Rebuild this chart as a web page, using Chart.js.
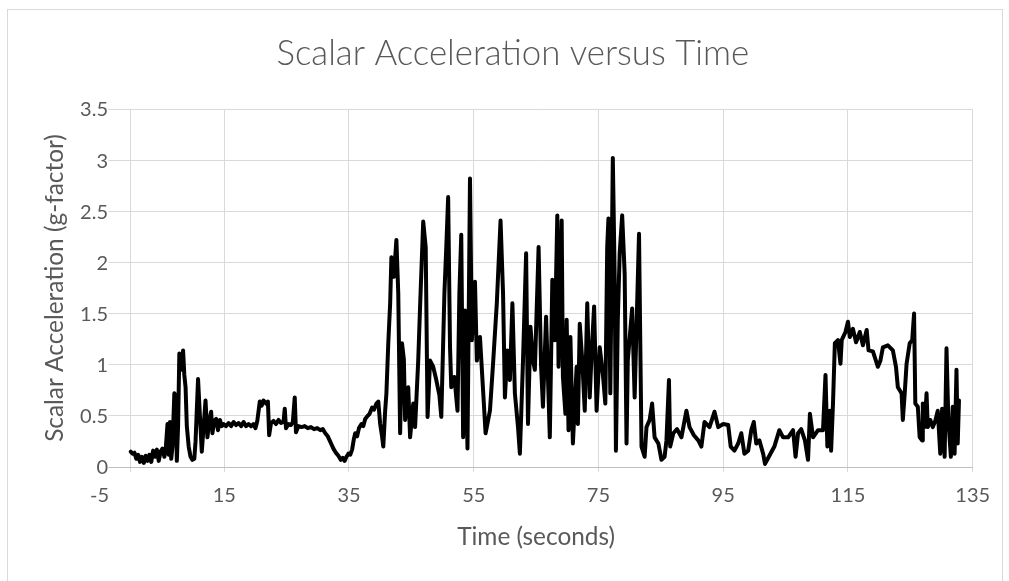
<!DOCTYPE html>
<html>
<head>
<meta charset="utf-8">
<script src="https://cdn.jsdelivr.net/npm/chart.js@4.4.1/dist/chart.umd.min.js"></script>
<style>
  html, body { margin: 0; padding: 0; background: #ffffff; }
  #wrap { width: 1009px; height: 581px; position: relative; }
</style>
</head>
<body>
<div id="wrap"><canvas id="c" width="1009" height="581"></canvas></div>
<script>
const chartTitle = 'Scalar Acceleration versus Time';
const xAxisTitle = 'Time (seconds)';
const yAxisTitle = 'Scalar Acceleration (g-factor)';

const xTickValues = [-5, 15, 35, 55, 75, 95, 115, 135];
const xTickLabels = ['-5', '15', '35', '55', '75', '95', '115', '135'];
const yTickValues = [0, 0.5, 1, 1.5, 2, 2.5, 3, 3.5];
const yTickLabels = ['0', '0.5', '1', '1.5', '2', '2.5', '3', '3.5'];

const timeSeconds = [
  0.0, 0.3, 0.6, 0.9, 1.2, 1.5, 1.8, 2.1, 2.4, 2.7, 3.0, 3.3, 3.6, 3.9, 4.2, 4.5, 4.8, 5.1, 5.4, 5.6,
  5.9, 6.1, 6.3, 6.5, 6.7, 7.0, 7.2, 7.4, 7.6, 7.8, 8.0, 8.2, 8.4, 8.6, 8.8, 9.0, 9.3, 9.6, 9.9, 10.2,
  10.4, 10.8, 11.1, 11.4, 11.7, 12.0, 12.3, 12.6, 12.9, 13.1, 13.4, 13.7, 14.0, 14.3, 14.6, 14.9, 15.3, 15.7, 16.1, 16.5,
  16.9, 17.3, 17.7, 18.1, 18.5, 18.9, 19.3, 19.7, 20.0, 20.3, 20.7, 21.0, 21.3, 21.7, 22.0, 22.2, 22.5, 22.9, 23.3, 23.7,
  24.1, 24.5, 24.7, 24.9, 25.3, 25.7, 26.0, 26.3, 26.5, 26.9, 27.4, 27.9, 28.4, 28.9, 29.4, 29.9, 30.4, 30.8, 31.2, 31.6,
  31.9, 32.2, 32.5, 32.9, 33.3, 33.7, 34.0, 34.3, 34.6, 34.9, 35.2, 35.5, 35.8, 36.0, 36.3, 36.6, 37.0, 37.3, 37.6, 38.0,
  38.3, 38.7, 39.0, 39.4, 39.7, 40.0, 40.3, 40.5, 40.8, 41.0, 41.3, 41.6, 41.8, 42.0, 42.2, 42.6, 42.9, 43.2, 43.5, 43.8,
  44.0, 44.5, 44.8, 45.3, 45.6, 46.1, 46.4, 46.9, 47.3, 47.6, 48.0, 48.5, 49.0, 49.5, 49.8, 50.3, 50.6, 50.9, 51.2, 51.4,
  51.9, 52.4, 52.7, 53.0, 53.3, 53.6, 54.0, 54.4, 54.7, 55.2, 55.5, 56.0, 56.5, 56.9, 57.6, 58.1, 58.7, 59.3, 59.7, 60.0,
  60.4, 60.8, 61.2, 61.6, 62.1, 62.4, 62.9, 63.4, 63.7, 64.1, 64.5, 64.8, 65.4, 65.8, 66.1, 66.6, 67.2, 67.6, 68.0, 68.4,
  68.6, 69.1, 69.3, 69.7, 69.9, 70.2, 70.5, 70.9, 71.5, 71.7, 72.0, 72.4, 72.8, 73.2, 73.6, 73.9, 74.3, 74.7, 75.2, 75.7,
  76.1, 76.4, 76.6, 76.9, 77.3, 77.6, 77.8, 78.1, 78.4, 78.8, 79.2, 79.5, 79.7, 80.4, 80.8, 81.5, 81.8, 81.9, 82.4, 82.7,
  83.2, 83.6, 84.0, 84.6, 85.1, 85.6, 85.9, 86.3, 86.5, 87.0, 87.6, 88.3, 89.1, 89.6, 90.3, 91.0, 91.5, 92.0, 92.8, 93.6,
  94.2, 95.0, 95.8, 96.2, 96.8, 97.4, 97.9, 98.4, 99.0, 99.5, 99.9, 100.3, 100.8, 101.4, 101.7, 102.4, 103.2, 104.0, 104.6, 105.4,
  106.2, 106.6, 107.0, 107.5, 108.1, 108.6, 108.9, 109.4, 110.2, 111.0, 111.4, 111.7, 112.1, 112.3, 112.6, 112.9, 113.4, 113.8, 114.0, 114.6,
  115.0, 115.3, 115.8, 116.3, 116.9, 117.4, 118.0, 118.3, 119.0, 119.8, 120.2, 120.6, 121.4, 122.2, 122.7, 123.0, 123.3, 123.6, 123.8, 124.1,
  124.4, 124.9, 125.3, 125.6, 125.8, 126.2, 126.5, 126.9, 127.0, 127.3, 127.6, 127.8, 128.2, 128.6, 129.0, 129.4, 129.8, 130.1, 130.5, 130.8,
  131.1, 131.5, 131.8, 132.1, 132.4, 132.6, 132.8
];

const scalarAccel = [
  0.15, 0.13, 0.14, 0.08, 0.12, 0.05, 0.10, 0.04, 0.11, 0.06, 0.12, 0.05, 0.16, 0.10, 0.17, 0.06, 0.15, 0.18, 0.10, 0.16,
  0.42, 0.12, 0.44, 0.08, 0.20, 0.72, 0.70, 0.06, 0.40, 1.11, 1.05, 0.95, 1.14, 0.90, 0.78, 0.40, 0.20, 0.10, 0.07, 0.08,
  0.25, 0.86, 0.50, 0.15, 0.40, 0.65, 0.29, 0.45, 0.54, 0.33, 0.45, 0.47, 0.36, 0.46, 0.40, 0.42, 0.40, 0.43, 0.40, 0.44,
  0.41, 0.43, 0.40, 0.44, 0.40, 0.42, 0.40, 0.42, 0.38, 0.45, 0.64, 0.60, 0.65, 0.62, 0.64, 0.31, 0.43, 0.45, 0.42, 0.46,
  0.43, 0.44, 0.57, 0.38, 0.42, 0.41, 0.44, 0.68, 0.34, 0.40, 0.39, 0.40, 0.38, 0.39, 0.37, 0.38, 0.36, 0.37, 0.33, 0.30,
  0.26, 0.22, 0.18, 0.14, 0.11, 0.07, 0.09, 0.06, 0.10, 0.13, 0.12, 0.17, 0.28, 0.33, 0.30, 0.38, 0.42, 0.40, 0.47, 0.50,
  0.52, 0.58, 0.56, 0.62, 0.64, 0.42, 0.30, 0.20, 0.55, 0.72, 1.21, 1.60, 2.05, 1.95, 1.86, 2.22, 1.70, 0.33, 1.21, 1.05,
  0.46, 0.78, 0.29, 0.62, 0.39, 1.04, 1.57, 2.40, 2.15, 0.49, 1.04, 0.98, 0.85, 0.70, 0.49, 1.70, 2.15, 2.64, 1.17, 0.78,
  0.88, 0.55, 1.70, 2.27, 0.29, 1.53, 0.18, 2.82, 1.24, 1.81, 1.04, 1.27, 0.75, 0.33, 0.55, 1.01, 1.60, 2.41, 1.70, 0.68,
  1.14, 0.85, 1.60, 0.72, 0.39, 0.13, 1.04, 2.09, 0.42, 1.37, 1.04, 0.95, 2.15, 0.98, 0.59, 1.47, 0.29, 1.83, 1.24, 2.46,
  0.98, 2.41, 0.88, 0.52, 1.44, 0.36, 1.27, 0.23, 0.98, 0.42, 1.40, 1.04, 0.55, 1.60, 0.68, 1.11, 1.57, 0.55, 1.17, 0.91,
  0.62, 2.15, 2.43, 0.72, 3.02, 1.86, 0.16, 1.44, 2.09, 2.46, 1.89, 0.23, 1.04, 1.55, 0.68, 2.28, 0.72, 0.20, 0.10, 0.39,
  0.46, 0.62, 0.29, 0.23, 0.07, 0.10, 0.26, 0.85, 0.20, 0.33, 0.37, 0.29, 0.55, 0.39, 0.31, 0.26, 0.20, 0.44, 0.39, 0.54,
  0.39, 0.42, 0.41, 0.20, 0.16, 0.23, 0.33, 0.13, 0.16, 0.36, 0.44, 0.23, 0.26, 0.13, 0.03, 0.11, 0.20, 0.36, 0.29, 0.29,
  0.36, 0.10, 0.33, 0.37, 0.26, 0.07, 0.52, 0.29, 0.36, 0.36, 0.90, 0.20, 0.55, 0.16, 0.62, 1.21, 1.24, 1.01, 1.24, 1.32,
  1.42, 1.27, 1.35, 1.22, 1.32, 1.19, 1.34, 1.14, 1.13, 0.98, 1.04, 1.17, 1.19, 1.14, 0.98, 0.78, 0.75, 0.72, 0.46, 0.72,
  1.01, 1.21, 1.24, 1.50, 0.62, 0.59, 0.29, 0.26, 0.62, 0.39, 0.72, 0.39, 0.46, 0.39, 0.45, 0.55, 0.13, 0.57, 0.10, 1.16,
  0.46, 0.10, 0.59, 0.13, 0.95, 0.23, 0.65
];

const points = timeSeconds.map((t, i) => ({ x: t, y: scalarAccel[i] }));

const FONT = 'Lato, "Open Sans", sans-serif';
const TXT = '#595959';
const GRID = '#d9d9d9';
const TICK_SIZE = 20;
const TITLE_WEIGHT = '300';

// font sizes fitted to the widths the texts occupy in the reference
function fitSize(text, targetWidth, weight) {
  const c = document.createElement('canvas').getContext('2d');
  c.font = (weight || 'normal') + ' 100px ' + FONT;
  return 100 * targetWidth / c.measureText(text).width;
}
const titleSize = fitSize(chartTitle, 473, TITLE_WEIGHT);
const axisTitleSize = fitSize(xAxisTitle, 158);

const chartBorder = {
  id: 'chartBorder',
  beforeDraw(chart) {
    const ctx = chart.ctx;
    ctx.save();
    ctx.fillStyle = '#ffffff';
    ctx.fillRect(0, 0, chart.width, chart.height);
    ctx.strokeStyle = GRID;
    ctx.lineWidth = 1;
    ctx.strokeRect(7.5, 9.5, 995, 600);
    ctx.restore();
  }
};

// y tick labels sit next to the vertical axis, which crosses at x = 0
const yLabelsAtCrossing = {
  id: 'yLabelsAtCrossing',
  beforeDatasetsDraw(chart) {
    const ctx = chart.ctx;
    const xs = chart.scales.x, ys = chart.scales.y;
    const right = xs.getPixelForValue(0) - 22.7;
    ctx.save();
    ctx.font = TICK_SIZE + 'px ' + FONT;
    ctx.textAlign = 'right';
    ctx.textBaseline = 'middle';
    yTickValues.forEach((v, i) => {
      const y = ys.getPixelForValue(v);
      const label = yTickLabels[i];
      const w = ctx.measureText(label).width;
      ctx.fillStyle = '#ffffff';
      ctx.fillRect(right - w - 1, y - 8, w + 1.5, 16);
      ctx.fillStyle = TXT;
      ctx.fillText(label, right, y + 1);
    });
    ctx.restore();
  }
};

new Chart(document.getElementById('c'), {
  type: 'line',
  data: {
    datasets: [{
      data: points,
      borderColor: '#000000',
      borderWidth: 4,
      pointRadius: 0,
      tension: 0,
      borderJoinStyle: 'round',
      borderCapStyle: 'round',
      fill: false
    }]
  },
  options: {
    responsive: false,
    animation: false,
    devicePixelRatio: 1,
    layout: { padding: { left: 53, right: 36.3, top: 0, bottom: 0 } },
    plugins: {
      legend: { display: false },
      tooltip: { enabled: false },
      title: {
        display: true,
        text: chartTitle,
        color: TXT,
        font: { family: FONT, size: titleSize, weight: TITLE_WEIGHT, lineHeight: 1.2 },
        padding: { top: 54 - 0.6 * titleSize, bottom: 55 - 0.6 * titleSize }
      }
    },
    scales: {
      x: {
        type: 'linear',
        min: -5,
        max: 135,
        afterBuildTicks(scale) {
          const vals = xTickValues.concat([0]).sort((a, b) => a - b);
          scale.ticks = vals.map(v => ({ value: v }));
        },
        afterFit(scale) { scale.height = 114; },
        ticks: {
          autoSkip: false,
          maxRotation: 0,
          padding: 12,
          color: TXT,
          font: { family: FONT, size: TICK_SIZE },
          callback(value) {
            const i = xTickValues.indexOf(value);
            return i >= 0 ? xTickLabels[i] : '';
          }
        },
        grid: {
          color: ctx => (ctx.tick && ctx.tick.value === -5) ? 'rgba(0,0,0,0)' : GRID,
          lineWidth: 1,
          drawTicks: true,
          tickLength: 5
        },
        border: { display: true, color: '#bfbfbf', width: 1 },
        title: {
          display: true,
          text: xAxisTitle,
          color: TXT,
          font: { family: FONT, size: axisTitleSize, lineHeight: 1.2 },
          padding: { top: 0, bottom: 581 - 537 - 0.6 * axisTitleSize }
        }
      },
      y: {
        type: 'linear',
        min: 0,
        max: 3.5,
        afterBuildTicks(scale) {
          scale.ticks = yTickValues.map(v => ({ value: v }));
        },
        afterFit(scale) { scale.width = 46.5; },
        ticks: { display: false },
        grid: { color: GRID, lineWidth: 1, drawTicks: false },
        border: { display: false },
        title: {
          display: true,
          text: yAxisTitle,
          color: TXT,
          font: { family: FONT, size: axisTitleSize, lineHeight: 1.2 },
          padding: { top: 55 - 53 - 0.6 * axisTitleSize, bottom: 0 }
        }
      }
    }
  },
  plugins: [chartBorder, yLabelsAtCrossing]
});
</script>
</body>
</html>
